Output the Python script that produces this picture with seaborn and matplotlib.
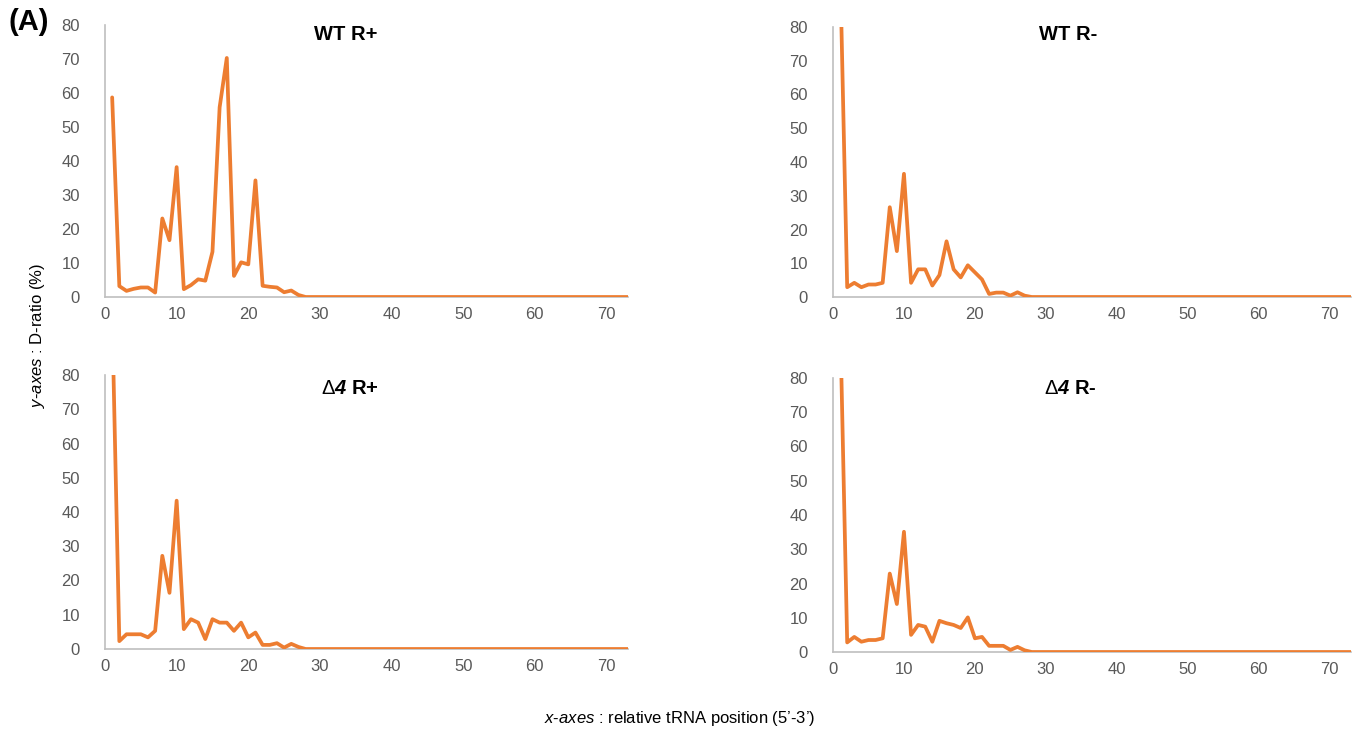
import numpy as np
import pandas as pd
import seaborn as sns
import matplotlib
matplotlib.use('Agg')
import matplotlib.pyplot as plt

# ==============================================================================
# DATOS (D-ratio % por posición relativa del tRNA)
# ==============================================================================
posiciones = np.arange(1, 74)

wt_rpos = [58.7, 3.2, 1.8, 2.4, 2.8, 2.8, 1.3, 23.1, 16.7, 38.2,
           2.3, 3.5, 5.2, 4.8, 13.3, 55.8, 70.3, 6.2, 10.2, 9.6,
           34.3, 3.3, 3.0, 2.8, 1.4, 1.9, 0.6, 0, 0, 0,
           0, 0, 0, 0, 0, 0, 0, 0, 0, 0,
           0, 0, 0, 0, 0, 0, 0, 0, 0, 0,
           0, 0, 0, 0, 0, 0, 0, 0, 0, 0,
           0, 0, 0, 0, 0, 0, 0, 0, 0, 0,
           0, 0, 0]
wt_rneg = [98.0, 2.9, 4.2, 2.9, 3.7, 3.7, 4.2, 26.6, 13.6, 36.5,
           4.2, 8.2, 8.2, 3.4, 6.5, 16.5, 8.2, 5.8, 9.4, 7.3,
           5.2, 0.9, 1.3, 1.3, 0.4, 1.4, 0.4, 0, 0, 0,
           0, 0, 0, 0, 0, 0, 0, 0, 0, 0,
           0, 0, 0, 0, 0, 0, 0, 0, 0, 0,
           0, 0, 0, 0, 0, 0, 0, 0, 0, 0,
           0, 0, 0, 0, 0, 0, 0, 0, 0, 0,
           0, 0, 0]
d4_rpos = [98.0, 2.3, 4.3, 4.3, 4.3, 3.4, 5.3, 27.2, 16.4, 43.3,
           5.8, 8.7, 7.7, 2.9, 8.7, 7.7, 7.7, 5.3, 7.7, 3.4,
           4.8, 1.2, 1.2, 1.7, 0.4, 1.5, 0.6, 0, 0, 0,
           0, 0, 0, 0, 0, 0, 0, 0, 0, 0,
           0, 0, 0, 0, 0, 0, 0, 0, 0, 0,
           0, 0, 0, 0, 0, 0, 0, 0, 0, 0,
           0, 0, 0, 0, 0, 0, 0, 0, 0, 0,
           0, 0, 0]
d4_rneg = [98.0, 2.8, 4.4, 3.0, 3.5, 3.5, 4.0, 22.9, 14.0, 35.1,
           5.0, 7.9, 7.4, 3.0, 9.1, 8.4, 7.9, 7.0, 10.1, 4.0,
           4.4, 1.8, 1.8, 1.8, 0.6, 1.5, 0.5, 0, 0, 0,
           0, 0, 0, 0, 0, 0, 0, 0, 0, 0,
           0, 0, 0, 0, 0, 0, 0, 0, 0, 0,
           0, 0, 0, 0, 0, 0, 0, 0, 0, 0,
           0, 0, 0, 0, 0, 0, 0, 0, 0, 0,
           0, 0, 0]

titulos = ["WT R+", "WT R-", r"$\Delta\mathbfit{4}$ R+", r"$\Delta\mathbfit{4}$ R-"]
series = [wt_rpos, wt_rneg, d4_rpos, d4_rneg]
y_ticks = np.arange(0, 81, 10)
x_ticks = np.arange(0, 71, 10)

# ==============================================================================
# FIGURA
# ==============================================================================
sns.set_theme(style="white")
plt.rcParams['font.family'] = ['Liberation Sans', 'DejaVu Sans']
plt.rcParams['mathtext.fontset'] = 'custom'
plt.rcParams['mathtext.rm'] = 'Liberation Sans'
plt.rcParams['mathtext.bf'] = 'Liberation Sans:bold'
plt.rcParams['mathtext.it'] = 'Liberation Sans:italic'
plt.rcParams['mathtext.bfit'] = 'Liberation Sans:bold:italic'

W, H = 1362, 740
fig = plt.figure(figsize=(W / 100, H / 100), dpi=100)

# cajas en pixeles (izq, der, arriba, abajo)
cajas = [(105, 628, 25, 297), (833, 1351, 27, 297),
         (105, 628, 375, 649), (833, 1351, 378, 652)]
pos_titulos = [(346, 34), (1068, 34), (350, 388), (1070, 388)]
naranja = "#ED7D31"
gris = "#595959"

for k, (caja, titulo, valores) in enumerate(zip(cajas, titulos, series)):
    l, r, t, b = caja
    ax = fig.add_axes([l / W, 1 - b / H, (r - l) / W, (b - t) / H])
    df = pd.DataFrame({"pos": posiciones, "ratio": valores})
    sns.lineplot(data=df, x="pos", y="ratio", ax=ax, color=naranja,
                 linewidth=2.7)
    ax.set_xlim(0, 73)
    ax.set_ylim(0, 80)
    ax.set_xticks(x_ticks)
    ax.set_yticks(y_ticks)
    ax.set_xlabel("")
    ax.set_ylabel("")
    ax.tick_params(axis="both", length=0, labelsize=12, colors=gris)
    ax.tick_params(axis="y", pad=18)
    ax.tick_params(axis="x", pad=7)
    for lado in ["top", "right"]:
        ax.spines[lado].set_visible(False)
    for lado in ["left", "bottom"]:
        ax.spines[lado].set_color("#BFBFBF")
        ax.spines[lado].set_linewidth(1.2)
        ax.spines[lado].set_zorder(0)
    tx, ty = pos_titulos[k]
    fig.text(tx / W, 1 - ty / H, titulo, ha="center", va="center",
             fontsize=14.5, fontweight="bold", color="black")

fig.text(9 / W, 1 - 22 / H, "(A)", ha="left", va="center",
         fontsize=21, fontweight="bold", color="black")

fig.text(38 / W, 1 - 335 / H, r"$\mathit{y\text{-}axes}$ : D-ratio (%)",
         rotation=90, ha="center", va="center", fontsize=12, color="black")
fig.text(680 / W, 1 - 718 / H,
         r"$\mathit{x\text{-}axes}$ : relative tRNA position (5’-3’)",
         ha="center", va="center", fontsize=12, color="black")

fig.savefig("out.png", dpi=100)
plt.close()
